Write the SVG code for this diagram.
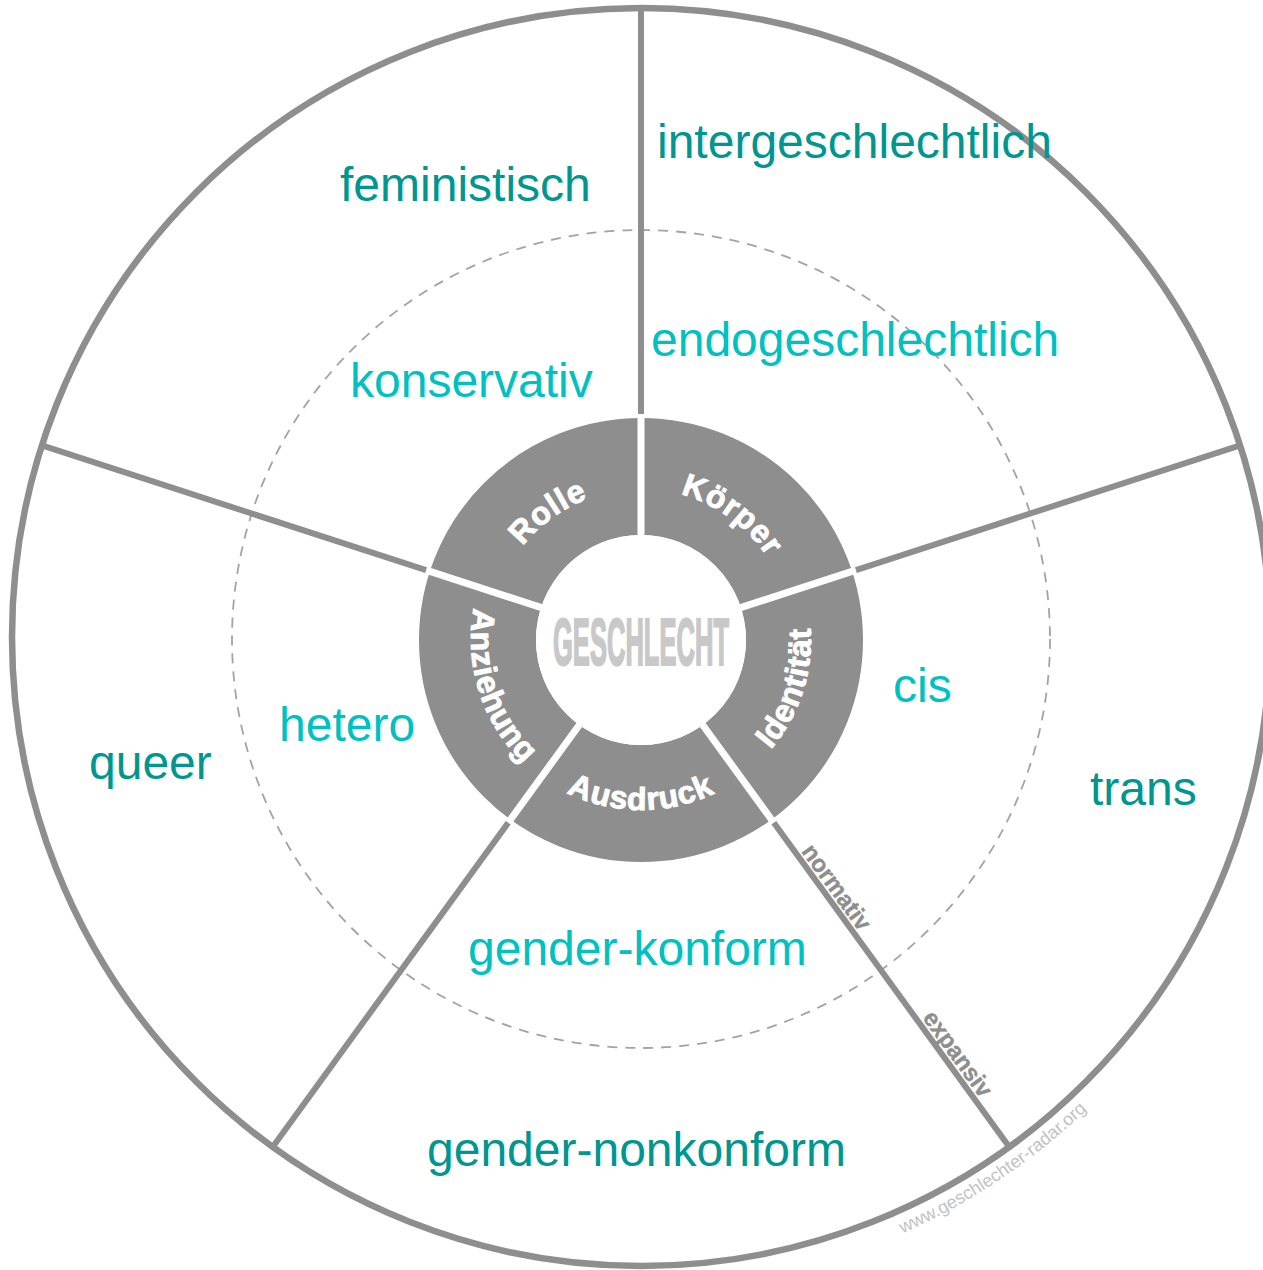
<svg xmlns="http://www.w3.org/2000/svg" width="1263" height="1270" viewBox="0 0 1263 1270">
  <style>
    .rim { fill: none; stroke: #8e8e8e; stroke-width: 6.5; }
    .guide { fill: none; stroke: #a3a3a3; stroke-width: 1.8; stroke-dasharray: 10 8; }
    .spoke { stroke: #8e8e8e; stroke-width: 6; fill: none; }
    .gap { stroke: #ffffff; stroke-width: 7; fill: none; }
    .term { font-family: "Liberation Sans", Arial, sans-serif; font-size: 48px; }
    .outer { fill: #00968f; }
    .inner { fill: #00c0c0; }
    .dim { font-family: "Liberation Sans", Arial, sans-serif; font-weight: bold; font-size: 32px; letter-spacing: 0.8px; fill: #ffffff; stroke: #ffffff; stroke-width: 0.9; }
    .scale { font-family: "Liberation Sans", Arial, sans-serif; font-weight: bold; font-size: 24px; fill: #8e8e8e; stroke: #8e8e8e; stroke-width: 0.4; }
    .url { font-family: "Liberation Sans", Arial, sans-serif; font-size: 18px; fill: #c2c2c2; }
  </style>
  <defs>
    <!-- arcs that carry the dimension names inside the ring -->
    <path id="arc-rolle" d="M497.4,593.3 A151,151 0 0 1 641,489"/>
    <path id="arc-koerper" d="M641,489 A151,151 0 0 1 784.6,593.3"/>
    <path id="arc-identitaet" d="M740.9,777.5 A170,170 0 0 0 802.7,587.5"/>
    <path id="arc-ausdruck" d="M541.1,777.5 A170,170 0 0 0 740.9,777.5"/>
    <path id="arc-anziehung" d="M479.3,587.5 A170,170 0 0 0 541.1,777.5"/>
    <path id="arc-url" d="M902.5,1233.5 A652,652 0 0 0 1137,1056"/>
  </defs>

  <rect width="1263" height="1270" fill="#ffffff"/>

  <!-- outer boundary and the dashed normative/expansive threshold -->
  <g id="outer-circle">
    <circle class="rim" cx="641" cy="637" r="629"/>
  </g>
  <g id="threshold">
    <circle class="guide" cx="641" cy="639" r="409"/>
  </g>

  <!-- spokes separating the five sectors -->
  <g id="connectors">
    <line class="spoke" x1="641" y1="420" x2="641" y2="8"/>
    <line class="spoke" x1="852.1" y1="571.4" x2="1240.1" y2="445.4"/>
    <line class="spoke" x1="771.5" y1="819.6" x2="1009.3" y2="1146.9"/>
    <line class="spoke" x1="510.5" y1="819.6" x2="272.7" y2="1146.9"/>
    <line class="spoke" x1="429.9" y1="571.4" x2="41.9" y2="445.4"/>
  </g>

  <!-- central ring with the five dimensions -->
  <g id="ring">
    <circle cx="641" cy="640" r="163.5" fill="none" stroke="#8e8e8e" stroke-width="117"/>
    <line class="gap" x1="641" y1="640" x2="641" y2="414"/>
    <line class="gap" x1="641" y1="640" x2="855.9" y2="570.2"/>
    <line class="gap" x1="641" y1="640" x2="773.8" y2="822.8"/>
    <line class="gap" x1="641" y1="640" x2="508.2" y2="822.8"/>
    <line class="gap" x1="641" y1="640" x2="426.1" y2="570.2"/>
    <circle cx="641" cy="640" r="105" fill="#ffffff"/>
  </g>

  <g id="center">
    <text x="641" y="665" text-anchor="middle" textLength="176" lengthAdjust="spacingAndGlyphs"
          font-family="'Liberation Sans', Arial, sans-serif" font-weight="bold" font-size="66"
          fill="#c8c8c8" stroke="#c8c8c8" stroke-width="2.2">GESCHLECHT</text>
  </g>

  <g id="dim-rolle"><text class="dim"><textPath href="#arc-rolle" startOffset="50%" text-anchor="middle">Rolle</textPath></text></g>
  <g id="dim-koerper"><text class="dim"><textPath href="#arc-koerper" startOffset="50%" text-anchor="middle">Körper</textPath></text></g>
  <g id="dim-identitaet"><text class="dim"><textPath href="#arc-identitaet" startOffset="50%" text-anchor="middle">Identität</textPath></text></g>
  <g id="dim-ausdruck"><text class="dim"><textPath href="#arc-ausdruck" startOffset="50%" text-anchor="middle">Ausdruck</textPath></text></g>
  <g id="dim-anziehung"><text class="dim"><textPath href="#arc-anziehung" startOffset="50%" text-anchor="middle">Anziehung</textPath></text></g>

  <!-- sector terms: inner (normative) and outer (expansive) -->
  <g id="koerper-terms">
    <text class="term outer" x="657" y="158">intergeschlechtlich</text>
    <text class="term inner" x="651" y="356">endogeschlechtlich</text>
  </g>
  <g id="rolle-terms">
    <text class="term outer" x="340" y="201">feministisch</text>
    <text class="term inner" x="350" y="397">konservativ</text>
  </g>
  <g id="identitaet-terms">
    <text class="term inner" x="893" y="702">cis</text>
    <text class="term outer" x="1090" y="805">trans</text>
  </g>
  <g id="anziehung-terms">
    <text class="term inner" x="279" y="741">hetero</text>
    <text class="term outer" x="89" y="779">queer</text>
  </g>
  <g id="ausdruck-terms">
    <text class="term inner" x="468" y="965">gender-konform</text>
    <text class="term outer" x="427" y="1166">gender-nonkonform</text>
  </g>

  <!-- scale labels along the lower right spoke -->
  <g id="scale-labels">
    <text class="scale" transform="translate(800.8,851.5) rotate(54)" textLength="100" lengthAdjust="spacingAndGlyphs">normativ</text>
    <text class="scale" transform="translate(921.9,1018.1) rotate(54)" textLength="100" lengthAdjust="spacingAndGlyphs">expansiv</text>
  </g>

  <g id="credit">
    <text class="url"><textPath href="#arc-url">www.geschlechter-radar.org</textPath></text>
  </g>
</svg>
